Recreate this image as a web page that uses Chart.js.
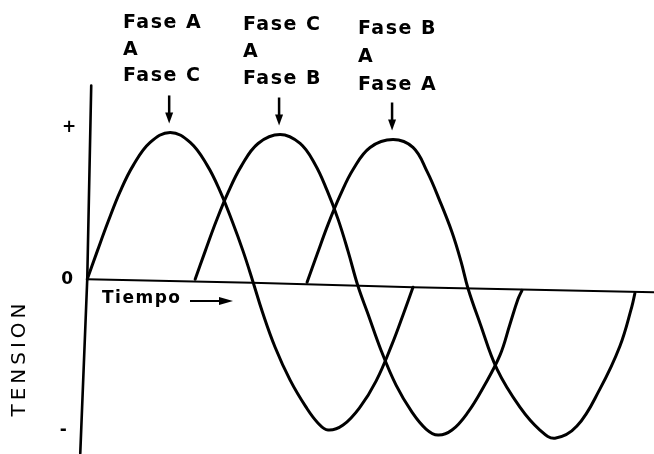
<!DOCTYPE html>
<html>
<head>
<meta charset="utf-8">
<script src="https://cdn.jsdelivr.net/npm/chart.js@4.4.1/dist/chart.umd.min.js"></script>
<style>
html,body{margin:0;padding:0;background:#ffffff;}
#wrap{width:654px;height:454px;position:relative;}
</style>
</head>
<body>
<div id="wrap"><canvas id="c"></canvas></div>
<script>
// Time in electrical degrees, voltage normalised to the peak
const waveAX = [0, 11.0, 23.2, 36.4, 50.8, 69.5, 91.6, 113.7, 132.5, 146.8, 160.1, 172.2, 183.2, 193.2, 207.5, 224.1, 241.7, 255.0, 266.0, 282.6, 301.3, 319.0, 336.7, 349.9, 359.8];
const waveAY = [0, 0.190, 0.395, 0.599, 0.776, 0.932, 1.000, 0.932, 0.776, 0.599, 0.395, 0.190, -0.020, -0.218, -0.463, -0.687, -0.871, -0.980, -1.027, -0.993, -0.871, -0.694, -0.442, -0.224, -0.054];

const waveBX = [119.2, 130.2, 142.4, 155.6, 170.0, 188.7, 213.0, 235.1, 251.7, 264.9, 277.1, 288.1, 299.1, 310.2, 324.5, 341.1, 358.7, 374.2, 387.4, 402.9, 420.6, 438.2, 455.9, 466.9, 475.7, 480.2];
const waveBY = [0, 0.190, 0.395, 0.592, 0.769, 0.925, 0.986, 0.925, 0.782, 0.605, 0.408, 0.190, -0.048, -0.238, -0.483, -0.721, -0.905, -1.020, -1.061, -1.027, -0.905, -0.728, -0.517, -0.306, -0.136, -0.075];

const waveCX = [242.8, 253.9, 266.0, 279.3, 293.6, 312.4, 337.8, 359.8, 375.3, 389.6, 402.9, 412.8, 420.5, 433.8, 452.6, 477.9, 500.0, 516.6, 540.9, 566.2, 588.3, 601.6, 604.9];
const waveCY = [-0.020, 0.170, 0.374, 0.571, 0.748, 0.898, 0.952, 0.898, 0.735, 0.531, 0.320, 0.122, -0.061, -0.299, -0.612, -0.871, -1.027, -1.082, -1.000, -0.748, -0.456, -0.184, -0.095];

// Drawn axes (slightly tilted in the scan)
const timeAxisX = [0, 182.1, 359.8, 625.9];
const timeAxisY = [0, -0.024, -0.054, -0.088];
const voltAxisX = [4.4, 0, -7.7];
const voltAxisY = [1.320, 0, -1.184];

// Texts
const peakLabels = [["Fase A", "A", "Fase C"], ["Fase C", "A", "Fase B"], ["Fase B", "A", "Fase A"]];
const tickValues = [1, 0, -1];
const tickLabels = ["+", "0", "-"];
const axisTitle = "TENSION";
const timeLabel = "Tiempo";

function pts(xs, ys) { return xs.map((x, i) => ({ x: x, y: ys[i] })); }

const lineStyle = (w, t) => ({
  borderColor: '#000', backgroundColor: '#000', borderWidth: w,
  pointRadius: 0, pointHoverRadius: 0, fill: false, clip: false,
  cubicInterpolationMode: 'default', tension: t, borderCapStyle: 'round', borderJoinStyle: 'round'
});

const waves = [[waveAX, waveAY], [waveBX, waveBY], [waveCX, waveCY]];

const annot = {
  id: 'annot',
  afterDatasetsDraw(chart) {
    const ctx = chart.ctx;
    const xs = chart.scales.x, ys = chart.scales.y;
    ctx.save();
    ctx.fillStyle = '#000';
    ctx.strokeStyle = '#000';

    // Peak labels
    const colX = [123, 243, 358];
    const rowY = [[23, 50, 76], [25, 52, 79], [29, 57, 85]];
    ctx.font = 'bold 19px "DejaVu Sans"';
    ctx.textAlign = 'left';
    ctx.textBaseline = 'middle';
    try { ctx.letterSpacing = '1.5px'; } catch (e) {}
    peakLabels.forEach((col, i) => {
      col.forEach((t, j) => ctx.fillText(t, colX[i], rowY[i][j]));
    });

    // Arrows pointing at each peak
    ctx.lineWidth = 2.5;
    waves.forEach(([X, Y]) => {
      let k = 0;
      Y.forEach((v, i) => { if (v > Y[k]) k = i; });
      const px = xs.getPixelForValue(X[k]) - 1;
      const tip = ys.getPixelForValue(Y[k]) - 9;
      ctx.beginPath();
      ctx.moveTo(px, tip - 28);
      ctx.lineTo(px, tip - 8);
      ctx.stroke();
      ctx.beginPath();
      ctx.moveTo(px - 4, tip - 11);
      ctx.lineTo(px + 4, tip - 11);
      ctx.lineTo(px, tip);
      ctx.closePath();
      ctx.fill();
    });

    // Tick labels
    try { ctx.letterSpacing = '0px'; } catch (e) {}
    ctx.font = 'bold 17px "DejaVu Sans"';
    ctx.textAlign = 'center';
    const x0 = xs.getPixelForValue(0);
    tickValues.forEach((v, i) => {
      const yy = ys.getPixelForValue(v);
      const off = v > 0 ? -5 : (v < 0 ? 4 : 0);
      const dx = v < 0 ? -24 : (v > 0 ? -18 : -20);
      ctx.fillText(tickLabels[i], x0 + dx, yy + off);
    });

    // Axis title
    ctx.save();
    ctx.translate(20, 360);
    ctx.rotate(-Math.PI / 2);
    ctx.font = '20px "DejaVu Sans"';
    try { ctx.letterSpacing = '4px'; } catch (e) {}
    ctx.textAlign = 'center';
    ctx.fillText(axisTitle, 2, 0);
    ctx.restore();

    // Time label with arrow
    ctx.font = 'bold 17px "DejaVu Sans"';
    try { ctx.letterSpacing = '1.5px'; } catch (e) {}
    ctx.textAlign = 'left';
    ctx.fillText(timeLabel, 102, 299);
    ctx.lineWidth = 2;
    ctx.beginPath();
    ctx.moveTo(190, 301);
    ctx.lineTo(222, 301);
    ctx.stroke();
    ctx.beginPath();
    ctx.moveTo(219, 297);
    ctx.lineTo(233, 301);
    ctx.lineTo(219, 305);
    ctx.closePath();
    ctx.fill();
    ctx.restore();
  }
};

new Chart(document.getElementById('c'), {
  type: 'line',
  data: {
    datasets: [
      Object.assign({ label: 'Fase 1', data: pts(waveAX, waveAY) }, lineStyle(3, 0.4)),
      Object.assign({ label: 'Fase 2', data: pts(waveBX, waveBY) }, lineStyle(3, 0.4)),
      Object.assign({ label: 'Fase 3', data: pts(waveCX, waveCY) }, lineStyle(3, 0.4)),
      Object.assign({ label: 'Tiempo', data: pts(timeAxisX, timeAxisY) }, lineStyle(2, 0)),
      Object.assign({ label: 'Tension', data: pts(voltAxisX, voltAxisY) }, lineStyle(2.6, 0))
    ]
  },
  options: {
    responsive: true,
    maintainAspectRatio: false,
    animation: false,
    events: [],
    layout: { padding: { left: 80, top: 84, right: 0, bottom: 0 } },
    plugins: { legend: { display: false }, tooltip: { enabled: false } },
    scales: {
      x: { type: 'linear', min: -8, max: 626, display: false },
      y: { type: 'linear', min: -1.19, max: 1.33, display: false }
    }
  },
  plugins: [annot]
});
</script>
</body>
</html>
